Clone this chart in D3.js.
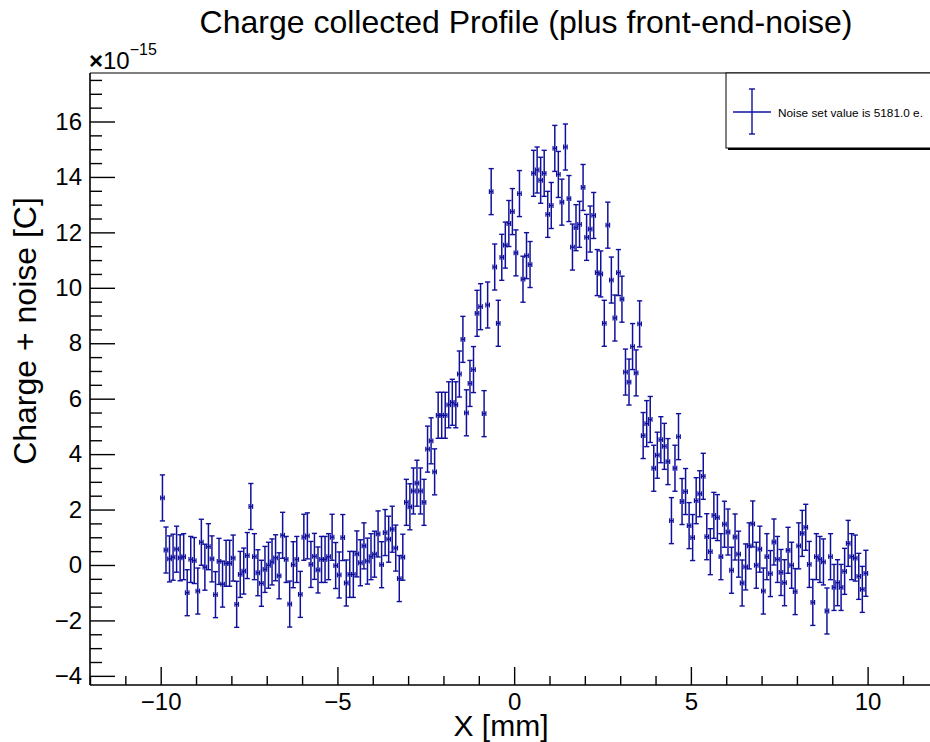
<!DOCTYPE html>
<html>
<head>
<meta charset="utf-8">
<script src="https://cdn.jsdelivr.net/npm/d3@7"></script>
<style>
  html, body { margin: 0; padding: 0; background: #fff; }
  svg { display: block; }
  text { font-family: "Liberation Sans", Arial, sans-serif; fill: #000; }
</style>
</head>
<body>
<svg id="chart" width="930" height="742"></svg>
<script>
// ---- data (charge in units of 1e-15 C) ----
const chartTitle = "Charge collected Profile (plus front-end-noise)";
const xTitle = "X [mm]";
const yTitle = "Charge + noise [C]";
const legendLabel = "Noise set value is 5181.0 e.";
const yExponentLabel = "\u221215";

// bin centres: 200 bins of 0.1 mm from -10 to 10
const binLow = -10, binWidth = 0.1, nBins = 200;
const xValues = d3.range(nBins).map(i => +(binLow + binWidth * (i + 0.5)).toFixed(2));

const chargeValues = [
  2.42, 0.54, 0.22, 0.28, 0.57, 0.26, 0.30, -1.00, 0.20, 0.16,
  -0.94, 0.82, -0.08, 0.66, 0.22, -1.07, 0.13, -0.69, 0.06, 0.06,
  0.25, -1.42, -0.34, -0.22, 0.34, 2.11, 0.30, -0.28, -0.66, -0.16,
  -0.01, 0.11, 0.26, -0.39, 1.07, 0.20, -1.41, 0.01, 0.20, -1.06,
  1.00, 1.05, 0.02, 0.31, -0.18, 0.20, 0.20, 0.30, 1.00, -0.02,
  -0.36, 0.99, -0.65, -0.34, -0.34, 0.40, 0.08, 0.69, 0.14, 0.30,
  0.39, 1.12, 0.01, 1.17, 0.93, 1.29, 0.61, -0.49, 0.28, 2.26,
  2.10, 2.67, 2.95, 2.67, 2.26, 4.18, 4.48, 3.36, 5.40, 5.40,
  5.40, 5.78, 5.87, 5.78, 6.89, 8.14, 5.49, 6.55, 7.05, 9.08,
  9.32, 5.46, 9.38, 13.47, 10.75, 8.72, 11.10, 11.54, 12.32, 12.75,
  11.26, 13.40, 10.31, 11.16, 10.84, 14.13, 14.25, 13.88, 14.13, 12.65,
  12.97, 15.03, 14.09, 13.09, 15.08, 13.22, 11.47, 12.17, 12.29, 13.62,
  11.82, 12.12, 12.61, 10.55, 10.50, 8.72, 12.26, 10.28, 8.91, 10.55,
  9.59, 6.96, 6.60, 7.88, 6.93, 8.70, 4.67, 5.10, 5.25, 3.49,
  3.96, 4.52, 4.28, 3.73, 1.60, 3.49, 4.63, 2.29, 2.65, 1.42,
  0.99, 2.32, 2.57, 3.20, 1.02, 0.48, 1.79, 1.71, 0.30, 1.47,
  1.19, -0.19, 1.01, 0.39, -0.65, -0.07, 0.69, 1.48, -0.01, 0.57,
  -0.94, 0.30, -0.31, 0.83, 0.20, -0.27, -0.64, 0.53, -0.01, -0.96,
  0.69, 1.14, 1.36, 0.02, -1.35, 0.30, 0.20, 0.11, -1.66, 0.30,
  -0.81, -0.64, -0.81, -0.23, 0.78, 0.30, 0.25, -0.41, -0.88, -0.30
];
// noise 5181 e  ->  5181 * 1.602e-19 C = 0.83e-15 C
const chargeError = 0.83;
const xError = binWidth / 2;

const xMajorTicks = [-10, -5, 0, 5, 10];
const xMinorTicks = [-12, -11, -9, -8, -7, -6, -4, -3, -2, -1, 1, 2, 3, 4, 6, 7, 8, 9, 11];
const yMajorTicks = [-4, -2, 0, 2, 4, 6, 8, 10, 12, 14, 16];
const yMinorTicks = d3.range(-4, 17.51, 0.5).filter(v => v % 2 !== 0);

// ---- layout ----
const color = "#10109c";
const frame = { left: 90, right: 938.3, top: 73, bottom: 685 };
const svg = d3.select("#chart");

const x = d3.scaleLinear().domain([-12, 12]).range([frame.left, frame.right]);
const y = d3.scaleLinear().domain([-4.33, 17.75]).range([frame.bottom, frame.top]);

const fmt = v => (v < 0 ? "\u2212" + Math.abs(v) : String(v));

// axes
const gx = svg.append("g").attr("transform", `translate(0,${frame.bottom})`);
gx.call(d3.axisBottom(x).tickValues(xMajorTicks).tickSize(-18).tickPadding(8).tickFormat(fmt));
const gxm = svg.append("g").attr("transform", `translate(0,${frame.bottom})`);
gxm.call(d3.axisBottom(x).tickValues(xMinorTicks).tickSize(-9).tickFormat(""));

const gy = svg.append("g").attr("transform", `translate(${frame.left},0)`);
gy.call(d3.axisLeft(y).tickValues(yMajorTicks).tickSize(-25).tickPadding(8).tickFormat(fmt));
const gym = svg.append("g").attr("transform", `translate(${frame.left},0)`);
gym.call(d3.axisLeft(y).tickValues(yMinorTicks).tickSize(-12).tickFormat(""));

[gx, gxm, gy, gym].forEach(g => {
  g.select(".domain").remove();
  g.selectAll(".tick line").attr("stroke", "#000").attr("stroke-width", 1.4);
  g.selectAll("text").style("font-size", "24px").attr("fill", "#000");
});

// frame
svg.append("line").attr("x1", frame.left).attr("x2", frame.left).attr("y1", frame.top).attr("y2", frame.bottom)
  .attr("stroke", "#000").attr("stroke-width", 1.6);
svg.append("line").attr("x1", frame.left).attr("x2", frame.right).attr("y1", frame.bottom).attr("y2", frame.bottom)
  .attr("stroke", "#000").attr("stroke-width", 1.6);
svg.append("line").attr("x1", frame.left).attr("x2", frame.right).attr("y1", frame.top).attr("y2", frame.top)
  .attr("stroke", "#000").attr("stroke-width", 1.2);

// data points with error bars
const pts = svg.append("g");
const data = xValues.map((xv, i) => ({ x: xv, y: chargeValues[i] }));
const g = pts.selectAll("g.pt").data(data).join("g").attr("class", "pt");
g.append("line")
  .attr("x1", d => x(d.x)).attr("x2", d => x(d.x))
  .attr("y1", d => y(d.y + chargeError)).attr("y2", d => y(d.y - chargeError))
  .attr("stroke", color).attr("stroke-width", 1.5);
g.append("line")
  .attr("x1", d => x(d.x) - 2.6).attr("x2", d => x(d.x) + 2.6)
  .attr("y1", d => y(d.y + chargeError)).attr("y2", d => y(d.y + chargeError))
  .attr("stroke", color).attr("stroke-width", 1.4);
g.append("line")
  .attr("x1", d => x(d.x) - 2.6).attr("x2", d => x(d.x) + 2.6)
  .attr("y1", d => y(d.y - chargeError)).attr("y2", d => y(d.y - chargeError))
  .attr("stroke", color).attr("stroke-width", 1.4);
// horizontal (bin width) error with end ticks -> "H" look
g.append("line")
  .attr("x1", d => x(d.x - xError)).attr("x2", d => x(d.x + xError))
  .attr("y1", d => y(d.y)).attr("y2", d => y(d.y))
  .attr("stroke", color).attr("stroke-width", 1.4);
g.append("line")
  .attr("x1", d => x(d.x - xError)).attr("x2", d => x(d.x - xError))
  .attr("y1", d => y(d.y) - 2.4).attr("y2", d => y(d.y) + 2.4)
  .attr("stroke", color).attr("stroke-width", 1.2);
g.append("line")
  .attr("x1", d => x(d.x + xError)).attr("x2", d => x(d.x + xError))
  .attr("y1", d => y(d.y) - 2.4).attr("y2", d => y(d.y) + 2.4)
  .attr("stroke", color).attr("stroke-width", 1.2);

// title
svg.append("text").attr("x", 526).attr("y", 33).attr("text-anchor", "middle")
  .style("font-size", "32px").text(chartTitle);

// axis titles
svg.append("text").attr("x", 501).attr("y", 736).attr("text-anchor", "middle")
  .style("font-size", "30px").text(xTitle);
svg.append("text").attr("transform", "translate(36,331) rotate(-90)").attr("text-anchor", "middle")
  .style("font-size", "32px").text(yTitle);

// exponent
const ex = svg.append("text").attr("x", 89).attr("y", 69).style("font-size", "24px");
ex.append("tspan").style("font-weight", "bold").text("\u00d7");
ex.append("tspan").text("10");
ex.append("tspan").attr("dy", -14).style("font-size", "16px").text(yExponentLabel);

// legend
const lg = svg.append("g");
lg.append("rect").attr("x", 728).attr("y", 75).attr("width", 220).attr("height", 75).attr("fill", "#000");
lg.append("rect").attr("x", 726).attr("y", 73).attr("width", 220).attr("height", 75)
  .attr("fill", "#fff").attr("stroke", "#000").attr("stroke-width", 1);
const lx = 752, ly = 112;
lg.append("line").attr("x1", 733).attr("x2", 771).attr("y1", ly).attr("y2", ly).attr("stroke", color).attr("stroke-width", 1.4);
lg.append("line").attr("x1", lx).attr("x2", lx).attr("y1", 89).attr("y2", 134).attr("stroke", color).attr("stroke-width", 1.4);
lg.append("line").attr("x1", lx - 3).attr("x2", lx + 3).attr("y1", 89).attr("y2", 89).attr("stroke", color).attr("stroke-width", 1.4);
lg.append("line").attr("x1", lx - 3).attr("x2", lx + 3).attr("y1", 134).attr("y2", 134).attr("stroke", color).attr("stroke-width", 1.4);
lg.append("text").attr("x", 778).attr("y", 116.5).style("font-size", "11.8px").text(legendLabel);
</script>
</body>
</html>
